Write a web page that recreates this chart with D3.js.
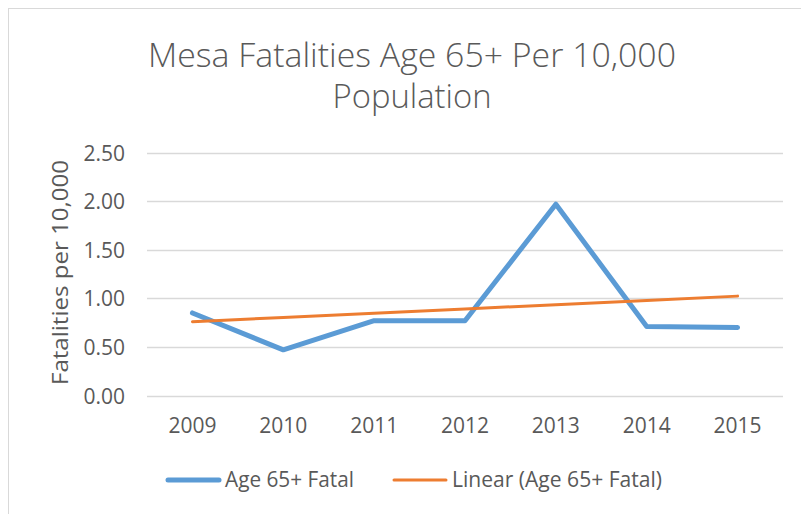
<!DOCTYPE html>
<html>
<head>
<meta charset="utf-8">
<script src="https://cdn.jsdelivr.net/npm/d3@7"></script>
<style>
  html, body { margin: 0; padding: 0; background: #fff; }
  svg { display: block; }
  text { font-family: "Open Sans", "Liberation Sans", sans-serif; fill: #595959; }
</style>
</head>
<body>
<svg id="chart" width="801" height="514"></svg>
<script>
const years = ["2009", "2010", "2011", "2012", "2013", "2014", "2015"];
const fatalValues = [0.85, 0.47, 0.77, 0.77, 1.97, 0.71, 0.70];
const yTicks = [0, 0.5, 1.0, 1.5, 2.0, 2.5];
const titleLines = ["Mesa Fatalities Age 65+ Per 10,000", "Population"];
const yAxisTitle = "Fatalities per 10,000";
const seriesName = "Age 65+ Fatal";
const trendName = "Linear (Age 65+ Fatal)";

const svg = d3.select("#chart");
const W = 801, H = 514;

// chart border
svg.append("rect")
  .attr("x", 8.5).attr("y", 8.5)
  .attr("width", W).attr("height", H)
  .attr("fill", "#fff").attr("stroke", "#d9d9d9").attr("stroke-width", 1);

const plot = { left: 147, right: 783, top: 152.7, bottom: 395.5 };

const x = d3.scaleBand().domain(years).range([plot.left, plot.right]);
const y = d3.scaleLinear().domain([0, 2.5]).range([plot.bottom, plot.top]);
const cx = d => x(d) + x.bandwidth() / 2;

// gridlines
svg.append("g").selectAll("line").data(yTicks).join("line")
  .attr("x1", plot.left).attr("x2", plot.right)
  .attr("y1", d => Math.round(y(d)) + 0.5).attr("y2", d => Math.round(y(d)) + 0.5)
  .attr("stroke", "#d9d9d9").attr("stroke-width", 1.3);

// y axis labels
const yAxis = d3.axisLeft(y).tickValues(yTicks).tickFormat(d3.format(".2f")).tickSize(0).tickPadding(0);
const gy = svg.append("g").attr("transform", `translate(125,0)`).call(yAxis);
gy.select(".domain").remove();
gy.selectAll("text").style("font-size", "21px").attr("fill", "#595959").attr("dy", "0.36em");

// x axis labels
const xAxis = d3.axisBottom(x).tickSize(0).tickPadding(0);
const gx = svg.append("g").attr("transform", `translate(0,${plot.bottom})`).call(xAxis);
gx.select(".domain").remove();
gx.selectAll("text").style("font-size", "21px").attr("fill", "#595959").attr("y", 37.5).attr("dy", 0);

// y axis title
svg.append("text")
  .attr("transform", `translate(68,272.5) rotate(-90)`)
  .attr("text-anchor", "middle")
  .style("font-size", "22px")
  .attr("textLength", 225).attr("lengthAdjust", "spacingAndGlyphs")
  .text(yAxisTitle);

// title
svg.append("g").selectAll("text").data(titleLines).join("text")
  .attr("x", 412).attr("y", (d, i) => 67 + i * 41)
  .attr("text-anchor", "middle")
  .style("font-size", "33px")
  .style("font-weight", "300")
  .attr("textLength", (d, i) => i === 0 ? 528 : 159).attr("lengthAdjust", "spacingAndGlyphs")
  .text(d => d);

// linear trend (least squares)
const n = fatalValues.length;
const xs = d3.range(n);
const mx = d3.mean(xs), my = d3.mean(fatalValues);
const slope = d3.sum(xs, i => (i - mx) * (fatalValues[i] - my)) / d3.sum(xs, i => (i - mx) ** 2);
const intercept = my - slope * mx;
const trend = xs.map(i => intercept + slope * i);

const line = d3.line().x((d, i) => cx(years[i])).y(d => y(d));

svg.append("path").datum(fatalValues)
  .attr("d", line)
  .attr("fill", "none").attr("stroke", "#5b9bd5")
  .attr("stroke-width", 5).attr("stroke-linejoin", "round").attr("stroke-linecap", "round");

svg.append("path").datum(trend)
  .attr("d", line)
  .attr("fill", "none").attr("stroke", "#ed7d31")
  .attr("stroke-width", 3).attr("stroke-linecap", "round");

// legend
const legend = svg.append("g");
legend.append("line").attr("x1", 168).attr("x2", 219).attr("y1", 480).attr("y2", 480)
  .attr("stroke", "#5b9bd5").attr("stroke-width", 5).attr("stroke-linecap", "round");
legend.append("text").attr("x", 225).attr("y", 487).style("font-size", "21px")
  .attr("textLength", 129).attr("lengthAdjust", "spacingAndGlyphs").text(seriesName);
legend.append("line").attr("x1", 394).attr("x2", 446).attr("y1", 480).attr("y2", 480)
  .attr("stroke", "#ed7d31").attr("stroke-width", 3).attr("stroke-linecap", "round");
legend.append("text").attr("x", 452).attr("y", 487).style("font-size", "21px")
  .attr("textLength", 210).attr("lengthAdjust", "spacingAndGlyphs").text(trendName);
</script>
</body>
</html>
